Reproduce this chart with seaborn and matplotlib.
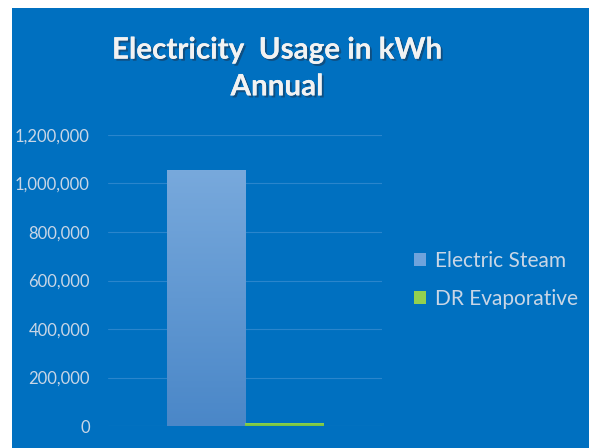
import matplotlib
matplotlib.use("Agg")
import matplotlib.pyplot as plt
import matplotlib.patheffects as pe
from matplotlib.patches import Rectangle
from matplotlib.colors import LinearSegmentedColormap
from matplotlib.ticker import FuncFormatter
import seaborn as sns
import pandas as pd
import numpy as np

# ---- data ----
systems = ["Electric Steam", "DR Evaporative"]
kwh_annual = [1055000, 11000]
group = ["Annual", "Annual"]
bar_colors = ["#5e99d8", "#7ac143"]
y_ticks = [0, 200000, 400000, 600000, 800000, 1000000, 1200000]

df = pd.DataFrame({"group": group, "system": systems, "kwh": kwh_annual})

BG = "#0070c0"
LABEL = "#c9d6e6"

sns.set_style("white")
plt.rcParams["font.family"] = ["Lato", "DejaVu Sans"]

fig = plt.figure(figsize=(5.89, 4.48), dpi=100, facecolor=BG)
# white strip on the left and top like the screenshot (drawn on top, clips the labels)
fig.patches.append(Rectangle((0, 0), 12 / 589, 1, transform=fig.transFigure,
                             facecolor="white", edgecolor="none", zorder=20))
fig.patches.append(Rectangle((0, 1 - 8 / 448), 1, 8 / 448, transform=fig.transFigure,
                             facecolor="white", edgecolor="none", zorder=20))

ax = fig.add_axes([108 / 589, 22 / 448, 274 / 589, 291 / 448])
ax.set_facecolor(BG)
sns.barplot(data=df, x="group", y="kwh", hue="system", palette=bar_colors,
            width=0.57, saturation=1, linewidth=0, ax=ax, legend=False)

# vertical gradient on the bars (lighter at the top), as in the Excel chart
grad_cmaps = [LinearSegmentedColormap.from_list("g1", ["#4a87c8", "#78a9dc"]),
              LinearSegmentedColormap.from_list("g2", ["#72c23f", "#8fd14f"])]
for bar, cm in zip(ax.patches, grad_cmaps):
    x0, y0 = bar.get_x(), bar.get_y()
    w, h = bar.get_width(), bar.get_height()
    im = ax.imshow(np.linspace(0, 1, 256).reshape(-1, 1), cmap=cm, origin="lower",
                   extent=[x0, x0 + w, y0, y0 + h], aspect="auto", zorder=2)
    im.set_clip_path(bar)
ax.set_aspect("auto")
ax.set_xlim(-0.5, 0.5)
ax.set_ylim(0, 1200000)

ax.set_yticks(y_ticks)
ax.yaxis.set_major_formatter(FuncFormatter(lambda v, p: f"{int(v):,}"))
ax.tick_params(axis="y", length=0, pad=13, labelsize=12, labelcolor=LABEL)
ax.set_xticks([])
ax.set_xlabel("")
ax.set_ylabel("")
ax.grid(axis="y", color="#2a85cc", linewidth=0.8)
ax.set_axisbelow(True)
for s in ax.spines.values():
    s.set_visible(False)

# title with a soft shadow
shadow = [pe.withSimplePatchShadow(offset=(1.5, -1.5), shadow_rgbFace="#1a3a5a", alpha=0.6),
          pe.Normal()]
fig.text(277 / 589, 1 - 68 / 448, "Electricity  Usage in kWh\nAnnual", ha="center",
         va="center", ma="center", linespacing=1.38,
         fontsize=21.3, fontweight="bold", color="#f2f2f2", path_effects=shadow)

# legend
handles = [Rectangle((0, 0), 1, 1, facecolor=c, edgecolor="none") for c in ["#6fa3dc", "#92d050"]]
leg = fig.legend(handles, systems, loc="center left",
                 bbox_to_anchor=(395 / 589, 1 - 280 / 448), frameon=False,
                 fontsize=15, handlelength=0.6, handleheight=0.6,
                 handletextpad=0.4, labelspacing=0.85)
for t in leg.get_texts():
    t.set_color(LABEL)

fig.savefig("out.png", dpi=100, facecolor=fig.get_facecolor())
